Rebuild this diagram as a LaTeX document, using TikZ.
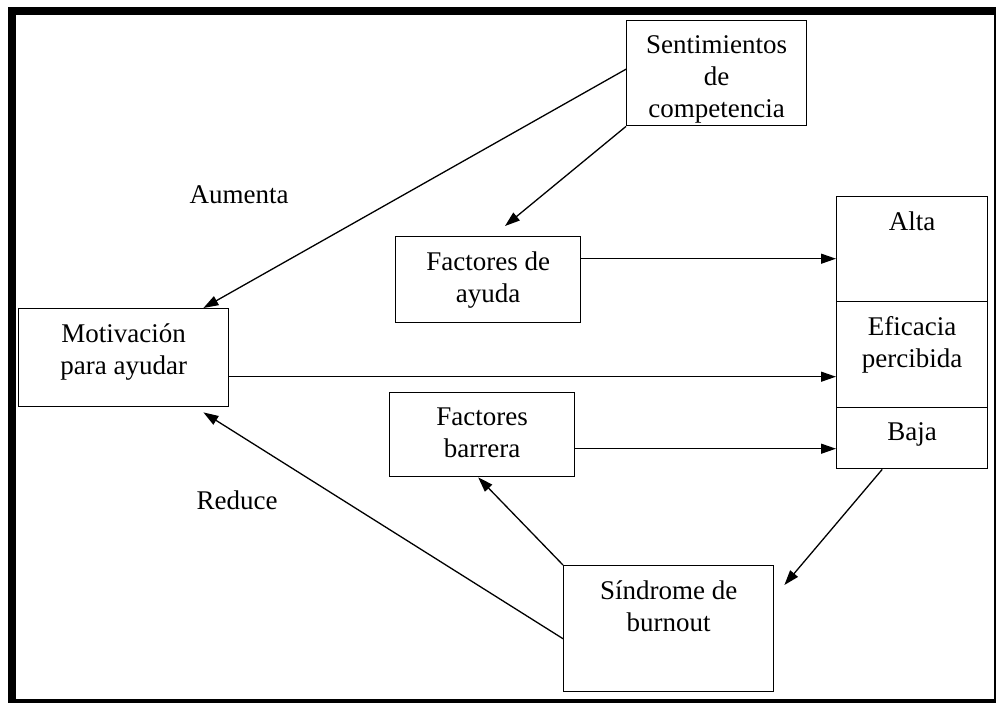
\documentclass[tikz,border=0pt]{standalone}
\usepackage{fontspec}
\setmainfont{Liberation Serif}
\usetikzlibrary{arrows.meta,positioning}

\begin{document}
\begin{tikzpicture}[x=1pt,y=-1pt,->,>={Triangle[length=15pt,width=10pt]},line width=1.3pt,
		font=\fontsize{27}{32}\selectfont]
		\tikzstyle{caja}=[draw,rectangle,anchor=north west,inner sep=0pt,line width=1.4pt]
		\tikzstyle{texto}=[anchor=north,yshift=-15pt,align=center,inner sep=0pt]
		
		\useasboundingbox (0,0) rectangle (996,702);
		\begin{scope}
		\clip (0,0) rectangle (996,702);
		\draw[-,line width=8pt] (12,11) rectangle (998,703);
		\end{scope}
		
		\node[caja,minimum width=180pt,minimum height=105pt,label={[texto]north:Sentimientos\\de\\competencia}] (senti) at (626,20) {};
		\node[caja,minimum width=185pt,minimum height=86pt,label={[texto]north:Factores de\\ayuda}]         (ayuda) at (395,236) {};
		\node[caja,minimum width=210pt,minimum height=98pt,label={[texto]north:Motivación\\para ayudar}]    (motiv) at (18,308) {};
		\node[caja,minimum width=151pt,minimum height=105pt,label={[texto]north:Alta}]                      (alta) at (836,196) {};
		\node[caja,minimum width=151pt,minimum height=106pt,label={[texto]north:Eficacia\\percibida}]       (efica) at (836,301) {};
		\node[caja,minimum width=151pt,minimum height=61pt,label={[texto]north:Baja}]                       (baja) at (836,407) {};
		\node[caja,minimum width=185pt,minimum height=84pt,label={[texto]north:Factores\\barrera}]          (barrera) at (389,392) {};
		\node[caja,minimum width=210pt,minimum height=126pt,label={[texto]north:Síndrome de\\burnout}]      (sindrome) at (563,565) {};
		
		\node (aumenta) at (239,195) {Aumenta};
		\node (reduce)  at (237,500) {Reduce};
		
		\draw ([yshift=4pt]senti.west) -- ([xshift=-26pt]motiv.north east);
		\draw (senti.south west) -- ([xshift=110pt,yshift=10pt]ayuda.north west);
		\draw ([yshift=21pt]ayuda.east) -- ([yshift=21pt]ayuda.east -| alta.west);
		\draw ([yshift=-19pt]motiv.east) -- ([yshift=-19pt]motiv.east -| efica.west);
		\draw ([yshift=-14pt]barrera.east) -- ([yshift=-14pt]barrera.east -| baja.west);
		\draw ([xshift=-30pt]baja.south) -- ([xshift=10pt,yshift=-20pt]sindrome.north east);
		\draw (sindrome.north west) -- ([xshift=-4pt]barrera.south);
		\draw ([yshift=-10pt]sindrome.west) -- ([xshift=-26pt,yshift=-5pt]motiv.south east);
		\end{tikzpicture}
\end{document}
